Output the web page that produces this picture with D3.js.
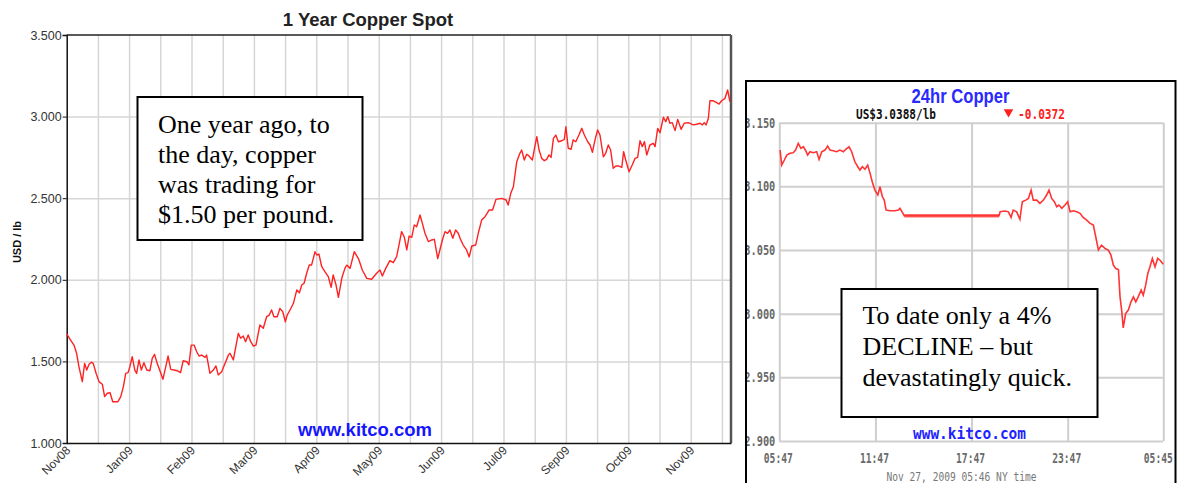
<!DOCTYPE html>
<html>
<head>
<meta charset="utf-8">
<script src="https://cdn.jsdelivr.net/npm/d3@7"></script>
<style>
  body { margin: 0; background: #fff; }
  svg { display: block; }
</style>
</head>
<body>
<svg width="1180" height="483"></svg>
<script>
// 1 year spot: trading-day index and USD/lb
const spotDays = [0,1.5,2.8,3.8,4.7,6,6.9,7.7,8.6,9.5,
  10.2,11.3,12.4,13.7,14.6,15.6,16.7,17.7,18.8,19.7,
  20.8,21.8,22.7,23.6,24.3,25.2,26.2,26.9,27.8,28.7,
  29.7,30.8,32,32.9,33.8,34.8,36.2,37,38.1,39,
  40,41.3,42.5,43.8,44.8,46.2,47,47.9,49,50,
  50.9,51.9,53.2,53.8,55.1,56.4,57.4,58.3,59.6,61.2,
  62.2,62.8,64.1,66,66.9,67.9,68.8,69.8,70.8,71.8,
  72.8,74.3,75.6,76.9,77.9,78.8,79.7,81,82,83.1,
  84.1,84.8,85.9,87.2,88.5,89.5,90.4,91.3,92.3,93.3,
  94.2,95.5,96.2,97,98.1,99.3,100.6,101.7,102.5,103.6,
  104.5,105.8,107,107.7,109,110.6,112.2,113.7,115.4,117.3,
  119.2,120.5,121.4,122.7,124.3,125.6,126.9,127.8,128.8,129.8,
  130.8,131.7,132.7,133.7,134.6,135.9,136.8,137.8,139.1,140.4,
  141.4,142.7,143.6,144.5,145.5,146.5,147.4,148.5,149.6,150.6,
  151.3,152.5,153.8,154.8,155.8,157.3,158.3,159.6,160.9,162.5,
  163.8,165.1,167.3,169,169.8,170.8,171.8,173.1,174.3,175,
  176,176.9,177.8,179.1,179.8,180.8,181.7,182.7,183.7,184.6,
  185.5,186.3,187.2,188.1,189.1,190.4,191.4,192,192.9,194,
  194.8,195.8,197,198.1,199.1,200.4,201.3,202.2,203.2,204.2,
  205.1,206.4,207.3,208.3,209.2,210.2,211.2,212.4,213.5,214.2,
  215,216.3,217.5,218.6,219.6,220.5,221.4,222.2,223.1,224.3,
  225.6,226.3,227.3,228.2,229.5,230.4,231.2,232,232.9,234,
  235,236.3,237.5,239.1,241,242.3,243.6,244.5,245.2,245.9,
  246.8,247.4,248.7,250,250.9,251.9,253.2,254.2,255.1];

const spotPrices = [1.668,1.631,1.600,1.550,1.468,1.376,1.488,1.447,1.482,1.495,
  1.488,1.427,1.376,1.360,1.284,1.305,1.308,1.253,1.253,1.253,
  1.284,1.345,1.427,1.431,1.468,1.529,1.447,1.427,1.509,1.447,
  1.492,1.447,1.443,1.519,1.543,1.488,1.427,1.390,1.468,1.533,
  1.451,1.447,1.443,1.431,1.504,1.498,1.478,1.600,1.600,1.559,
  1.533,1.539,1.525,1.539,1.427,1.447,1.472,1.417,1.437,1.500,
  1.540,1.550,1.509,1.672,1.642,1.656,1.621,1.662,1.621,1.594,
  1.600,1.723,1.703,1.774,1.784,1.815,1.774,1.774,1.825,1.804,
  1.743,1.784,1.815,1.856,1.938,1.921,1.968,1.979,2.040,2.091,
  2.091,2.172,2.152,2.158,2.080,2.050,2.020,1.954,2.030,1.968,
  1.893,2.009,2.070,2.090,2.070,2.172,2.130,2.060,2.009,2.003,
  2.040,2.060,2.023,2.070,2.117,2.105,2.142,2.213,2.295,2.264,
  2.183,2.268,2.260,2.336,2.325,2.397,2.346,2.285,2.234,2.244,
  2.248,2.130,2.187,2.244,2.295,2.285,2.305,2.254,2.305,2.285,
  2.254,2.213,2.183,2.140,2.207,2.213,2.285,2.366,2.387,2.428,
  2.428,2.493,2.499,2.489,2.458,2.530,2.570,2.724,2.775,2.795,
  2.734,2.769,2.759,2.734,2.795,2.877,2.795,2.744,2.730,2.738,
  2.765,2.750,2.867,2.887,2.846,2.852,2.861,2.938,2.806,2.800,
  2.857,2.846,2.887,2.928,2.887,2.846,2.826,2.781,2.857,2.918,
  2.887,2.754,2.775,2.826,2.795,2.683,2.697,2.697,2.689,2.785,
  2.734,2.662,2.703,2.744,2.750,2.852,2.816,2.846,2.765,2.826,
  2.836,2.816,2.928,2.901,2.996,2.969,3.000,2.959,2.963,2.914,
  2.983,2.922,2.959,2.963,2.949,2.953,2.959,2.949,2.963,2.949,
  2.990,3.097,3.097,3.085,3.077,3.097,3.112,3.163,3.091];

const monthLabels = ['Nov08','Jan09','Feb09','Mar09','Apr09','May09','Jun09','Jul09','Sep09','Oct09','Nov09'];
const spotTicks = [1.0, 1.5, 2.0, 2.5, 3.0, 3.5];

// 24 hour: minutes after 05:47 and USD/lb
const dayMinutes = [3,9,19,28,40,52,61,71,81,90,99,106,115,127,140,149,159,171,181,190,
  202,215,227,240,249,261,271,283,294,302,311,321,331,340,348,358,369,377,386,393,
  400,415,433,446,452,468,823,827,845,858,868,876,889,901,910,923,933,943,951,964,
  976,989,1001,1010,1020,1030,1039,1047,1058,1070,1080,1089,1101,1114,1126,1138,1151,1164,1176,1185,
  1195,1207,1220,1232,1242,1251,1260,1270,1276,1282,1288,1297,1307,1317,1326,1335,1344,1355,1363,1372,
  1380,1388,1397,1407,1417,1426,1438];

const dayPrices = [3.1285,3.1167,3.1207,3.1246,3.1260,3.1264,3.1285,3.1338,3.1298,3.1311,3.1280,3.1246,3.1272,3.1264,3.1272,3.1212,3.1272,3.1285,3.1317,3.1285,
  3.1280,3.1272,3.1285,3.1272,3.1291,3.1311,3.1272,3.1193,3.1154,3.1128,3.1154,3.1134,3.1167,3.1102,3.1036,3.0971,3.0932,3.0997,3.0918,3.0892,
  3.0814,3.0808,3.0808,3.0814,3.0827,3.0769,3.0769,3.0800,3.0806,3.0800,3.0756,3.0814,3.0800,3.0741,3.0879,3.0892,3.0905,3.0971,3.0892,3.0892,
  3.0866,3.0892,3.0932,3.0971,3.0905,3.0879,3.0840,3.0853,3.0827,3.0853,3.0879,3.0800,3.0808,3.0800,3.0788,3.0756,3.0735,3.0709,3.0696,3.0604,
  3.0500,3.0538,3.0512,3.0500,3.0460,3.0381,3.0355,3.0347,3.0132,3.0028,2.9889,3.0001,3.0028,3.0093,3.0132,3.0093,3.0132,3.0185,3.0145,3.0224,
  3.0316,3.0368,3.0434,3.0368,3.0434,3.0420,3.0388];

const hourLabels = ['05:47','11:47','17:47','23:47','05:45'];
const hourTicks = [0, 360, 720, 1080, 1438];
const dayTicks = [2.90, 2.95, 3.00, 3.05, 3.10, 3.15];

const noteLeft = ['One year ago, to', 'the day, copper', 'was trading for', '$1.50 per pound.'];
const noteRight = ['To date only a 4%', 'DECLINE \u2013 but', 'devastatingly quick.'];

const sans = "'Liberation Sans', Arial, sans-serif";
const serif = "'Liberation Serif', 'Times New Roman', serif";
const pixel = "'DejaVu Sans Mono', monospace";

let svg = d3.select('svg');

// ---------- left chart ----------
let x = d3.scaleLinear().domain([0, 255.5]).range([66.7, 731]);
let y = d3.scaleLinear().domain([1, 3.5]).range([443, 35]);

let left = svg.append('g');

// grid
left.append('g')
  .attr('transform', `translate(0,${y(1)})`)
  .call(d3.axisBottom(x).tickValues(d3.range(12, 255, 12)).tickSize(-(y(1) - y(3.5))).tickFormat(''))
  .call(g => g.select('.domain').remove())
  .call(g => g.selectAll('line').attr('stroke', '#d6d6d6').attr('stroke-width', 1.5));

left.append('g')
  .attr('transform', `translate(${x(0)},0)`)
  .call(d3.axisLeft(y).tickValues([1.5, 2, 2.5, 3]).tickSize(-(x(255.5) - x(0))).tickFormat(''))
  .call(g => g.select('.domain').remove())
  .call(g => g.selectAll('line').attr('stroke', '#d6d6d6').attr('stroke-width', 1.5));

// frame
left.append('line').attr('x1', x(0)).attr('x2', x(255.5)).attr('y1', y(3.5)).attr('y2', y(3.5))
  .attr('stroke', '#222').attr('stroke-width', 1.5);
left.append('line').attr('x1', x(255.5)).attr('x2', x(255.5)).attr('y1', y(3.5)).attr('y2', y(1))
  .attr('stroke', '#555').attr('stroke-width', 2.5);

// y axis
left.append('g')
  .attr('transform', `translate(${x(0)},0)`)
  .call(d3.axisLeft(y).tickValues(spotTicks).tickFormat(d3.format('.3f')).tickSize(4).tickPadding(1))
  .call(g => g.select('.domain').attr('stroke', '#111').attr('stroke-width', 1.5))
  .call(g => g.selectAll('line').attr('stroke', '#111'))
  .call(g => g.selectAll('text').attr('fill', '#333').style('font', `12.5px ${sans}`));

// x axis
left.append('g')
  .attr('transform', `translate(0,${y(1)})`)
  .call(d3.axisBottom(x).tickValues(d3.range(0, 241, 24)).tickFormat((d, i) => monthLabels[i]).tickSize(0))
  .call(g => g.select('.domain').attr('stroke', '#111').attr('stroke-width', 1.5))
  .call(g => g.selectAll('text')
    .attr('y', 0).attr('dy', 0)
    .attr('transform', 'translate(4,8) rotate(-45)')
    .style('text-anchor', 'end')
    .attr('fill', '#333')
    .style('font', `12px ${sans}`));

// series
let spotLine = d3.line().x(d => x(d[0])).y(d => y(d[1]));
left.append('path')
  .datum(d3.zip(spotDays, spotPrices))
  .attr('d', spotLine)
  .attr('fill', 'none')
  .attr('stroke', '#ff2222')
  .attr('stroke-width', 1.4)
  .attr('stroke-linejoin', 'round');

left.append('text')
  .attr('x', 368).attr('y', 26)
  .style('text-anchor', 'middle')
  .style('font', `bold 18.5px ${sans}`)
  .attr('fill', '#222')
  .text('1 Year Copper Spot');

left.append('text')
  .attr('transform', 'translate(21,242) rotate(-90)')
  .style('text-anchor', 'middle')
  .style('font', `bold 11px ${sans}`)
  .attr('fill', '#111')
  .text('USD / lb');

left.append('text')
  .attr('x', 298).attr('y', 435.5)
  .style('font', `bold 18.5px ${sans}`)
  .attr('fill', '#1515ff')
  .text('www.kitco.com');

// note box
left.append('rect')
  .attr('x', 137.5).attr('y', 97).attr('width', 225).attr('height', 143)
  .attr('fill', '#fff').attr('stroke', '#000').attr('stroke-width', 2);
left.selectAll('text.note')
  .data(noteLeft)
  .enter()
  .append('text')
  .classed('note', true)
  .attr('x', 158).attr('y', (d, i) => 133 + i * 30)
  .style('font', `26px ${serif}`)
  .attr('fill', '#000')
  .text(d => d);

// ---------- right chart ----------
let right = svg.append('g');
right.append('clipPath').attr('id', 'box')
  .append('rect').attr('x', 746).attr('y', 81).attr('width', 430).attr('height', 420);

let inner = right.append('g').attr('clip-path', 'url(#box)');
inner.append('rect').attr('x', 746).attr('y', 81).attr('width', 430).attr('height', 420).attr('fill', '#fff');

let x2 = d3.scaleLinear().domain([0, 1438]).range([779.3, 1163.3]);
let y2 = d3.scaleLinear().domain([2.9, 3.15]).range([441, 122.7]);

inner.append('g')
  .attr('transform', `translate(0,${y2(2.9)})`)
  .call(d3.axisBottom(x2).tickValues(hourTicks).tickSize(-(y2(2.9) - y2(3.15))).tickFormat(''))
  .call(g => g.select('.domain').remove())
  .call(g => g.selectAll('line').attr('stroke', '#cfcfcf').attr('stroke-width', 2));

inner.append('g')
  .attr('transform', `translate(${x2(0)},0)`)
  .call(d3.axisLeft(y2).tickValues(dayTicks).tickSize(-(x2(1438) - x2(0))).tickFormat(''))
  .call(g => g.select('.domain').remove())
  .call(g => g.selectAll('line').attr('stroke', '#cfcfcf').attr('stroke-width', 2));

inner.append('g')
  .attr('transform', `translate(${x2(0)},0)`)
  .call(d3.axisLeft(y2).tickValues(dayTicks).tickFormat(d3.format('.3f')).tickSize(0).tickPadding(4))
  .call(g => g.select('.domain').remove())
  .call(g => g.selectAll('text')
    .attr('fill', '#6a6a6a')
    .attr('textLength', 31).attr('lengthAdjust', 'spacingAndGlyphs')
    .style('font', `bold 14px ${pixel}`));

// hour labels, squeezed horizontally like the bitmap font
inner.append('g')
  .attr('transform', `translate(0,${y2(2.9)})`)
  .call(d3.axisBottom(x2).tickValues(hourTicks).tickFormat((d, i) => hourLabels[i]).tickSize(0))
  .call(g => g.select('.domain').remove())
  .call(g => g.selectAll('text')
    .attr('x', 0).attr('y', 0).attr('dy', 0)
    .attr('transform', (d, i) => `translate(${i === hourTicks.length - 1 ? -5.5 : -1.5},21.5) scale(0.69,1)`)
    .attr('fill', '#6a6a6a')
    .style('font', `bold 14px ${pixel}`));

let dayLine = d3.line().x(d => x2(d[0])).y(d => y2(d[1]));
let dayData = d3.zip(dayMinutes, dayPrices);
inner.append('path')
  .datum(dayData.filter(d => d[0] >= 468 && d[0] <= 823))
  .attr('d', dayLine)
  .attr('fill', 'none')
  .attr('stroke', '#ff6a6a')
  .attr('stroke-width', 3.5);
inner.append('path')
  .datum(dayData)
  .attr('d', dayLine)
  .attr('fill', 'none')
  .attr('stroke', '#ff3535')
  .attr('stroke-width', 1.6);

inner.append('text')
  .attr('x', 960.5).attr('y', 103)
  .style('text-anchor', 'middle')
  .style('font', `bold 21px ${sans}`)
  .attr('textLength', 98).attr('lengthAdjust', 'spacingAndGlyphs')
  .attr('fill', '#2a2aff')
  .text('24hr Copper');

inner.append('text')
  .attr('x', 856).attr('y', 119)
  .style('font', `bold 14px ${pixel}`)
  .attr('textLength', 80).attr('lengthAdjust', 'spacingAndGlyphs')
  .attr('fill', '#111')
  .text('US$3.0388/lb');

inner.append('path')
  .attr('d', d3.symbol(d3.symbolTriangle, 40))
  .attr('transform', 'translate(1008.5,112) rotate(180)')
  .attr('fill', '#ff2020');

inner.append('text')
  .attr('x', 1018).attr('y', 119)
  .style('font', `bold 14px ${pixel}`)
  .attr('textLength', 47).attr('lengthAdjust', 'spacingAndGlyphs')
  .attr('fill', '#ff2020')
  .text('-0.0372');

inner.append('text')
  .attr('x', 969.5).attr('y', 439)
  .style('text-anchor', 'middle')
  .style('font', `bold 15px ${pixel}`)
  .attr('textLength', 113).attr('lengthAdjust', 'spacingAndGlyphs')
  .attr('fill', '#2222ff')
  .text('www.kitco.com');

inner.append('text')
  .attr('x', 961.5).attr('y', 480.5)
  .style('text-anchor', 'middle')
  .style('font', `12px ${pixel}`)
  .attr('textLength', 150).attr('lengthAdjust', 'spacingAndGlyphs')
  .attr('fill', '#777')
  .text('Nov 27, 2009 05:46 NY time');

// note box
inner.append('rect')
  .attr('x', 841.5).attr('y', 289).attr('width', 256).attr('height', 128)
  .attr('fill', '#fff').attr('stroke', '#000').attr('stroke-width', 2);
inner.selectAll('text.note')
  .data(noteRight)
  .enter()
  .append('text')
  .classed('note', true)
  .attr('x', 862.5).attr('y', (d, i) => 324 + i * 31)
  .style('font', `26px ${serif}`)
  .attr('fill', '#000')
  .text(d => d);

right.append('rect')
  .attr('x', 746).attr('y', 81).attr('width', 429.5).attr('height', 420)
  .attr('fill', 'none').attr('stroke', '#000').attr('stroke-width', 2);
</script>
</body>
</html>
